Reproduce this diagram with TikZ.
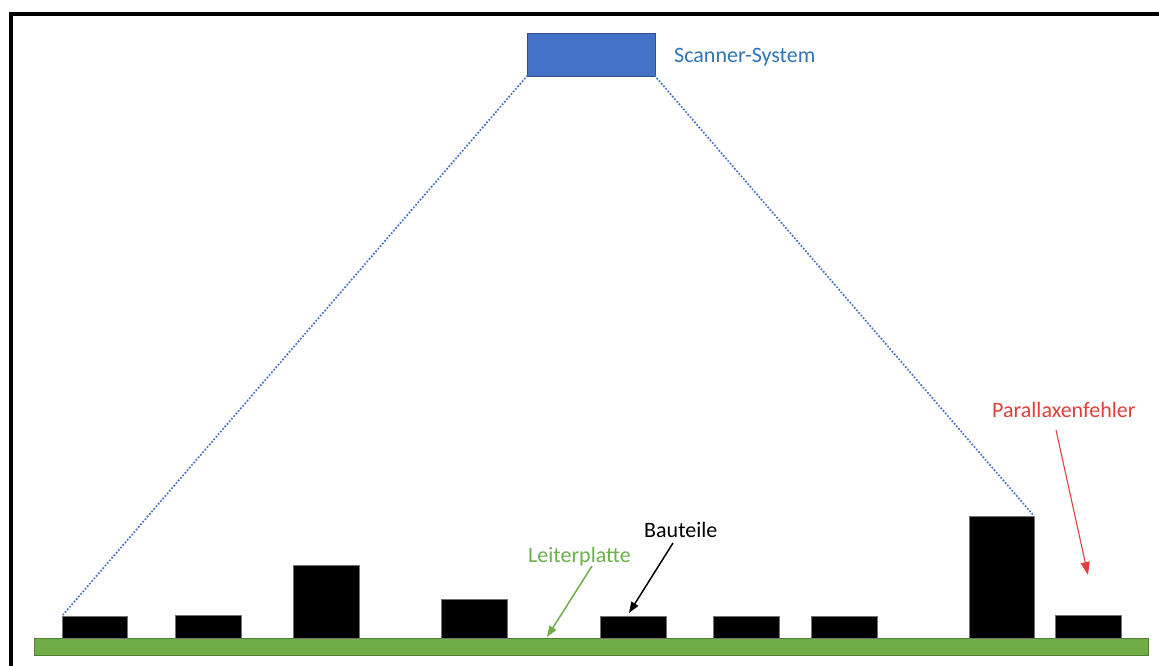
\documentclass[tikz,border=0pt]{standalone}
\usepackage{fontspec}
\setmainfont{Carlito}
\usetikzlibrary{arrows.meta}
\definecolor{scanblue}{HTML}{4472C4}
\definecolor{scanedge}{HTML}{2F528F}
\definecolor{scantext}{HTML}{2E75B6}
\definecolor{boardgreen}{HTML}{70AD47}
\definecolor{boardedge}{HTML}{507E32}
\definecolor{boardtext}{HTML}{6AB04C}
\definecolor{errred}{HTML}{E0403A}
\tikzset{
  part/.style={fill=black, draw=black!55, line width=0.6pt, inner sep=0pt, outer sep=0pt, anchor=south west, minimum height=#1},
  part/.default=23pt,
  lbl/.style={inner sep=0pt, anchor=base west, font=\fontsize{22}{26}\selectfont},
  ray/.style={scanblue, line width=2.4pt, line cap=round, dash pattern=on 0pt off 3.4pt},
  pointer/.style={line width=1.5pt, -{Triangle[length=11pt,width=8pt]}},
}
\begin{document}
\begin{tikzpicture}[x=1pt,y=-1pt]
  \useasboundingbox (0,0) rectangle (1159,666);
  % frame (top and left edges)
  \draw[line width=4pt] (11,666) -- (11,14) -- (1159,14);

  % circuit board
  \node[fill=boardgreen, draw=boardedge, line width=1pt, inner sep=0pt, outer sep=0pt,
        anchor=north west, minimum width=1114pt, minimum height=17pt] (board) at (34,638) {};

  % components
  \node[part=22pt, minimum width=65pt] (c1) at (62,638) {};
  \node[part,      minimum width=66pt] (c2) at (175,638) {};
  \node[part=73pt, minimum width=66pt] (c3) at (293,638) {};
  \node[part=39pt, minimum width=66pt] (c4) at (441,638) {};
  \node[part=22pt, minimum width=66pt] (c5) at (600,638) {};
  \node[part=22pt, minimum width=66pt] (c6) at (713,638) {};
  \node[part=22pt, minimum width=66pt] (c7) at (811,638) {};
  \node[part=122pt, minimum width=65pt] (c8) at (969,638) {};
  \node[part,      minimum width=66pt] (c9) at (1055,638) {};

  % scanner
  \node[fill=scanblue, draw=scanedge, line width=0.8pt, inner sep=0pt, outer sep=0pt,
        anchor=north west, minimum width=128pt, minimum height=43pt] (scanner) at (527,33) {};

  % field of view
  \draw[ray] (scanner.south west) -- (c1.north west);
  \draw[ray] (scanner.south east) -- (c8.north east);

  % labels
  \node[lbl, text=scantext] (tscan) at (674,63) {Scanner-System};
  \node[lbl, text=errred] (tpar) at (992,417) {Parallaxenfehler};
  \node[lbl, text=black] (tbau) at (644,537) {Bauteile};
  \node[lbl, text=boardtext] (tlei) at (528,562) {Leiterplatte};

  % pointers
  \coordinate (parend) at (1088,575);
  \coordinate (leiend) at (547,637);
  \coordinate (bauend) at (629,613);
  \draw[pointer, errred, line width=1.1pt, -{Triangle[length=13pt,width=9pt]}] (1056,430) -- (parend);
  \draw[pointer, boardgreen] (592,566) -- (leiend);
  \draw[pointer, black] (673,543) -- (bauend);
\end{tikzpicture}
\end{document}
